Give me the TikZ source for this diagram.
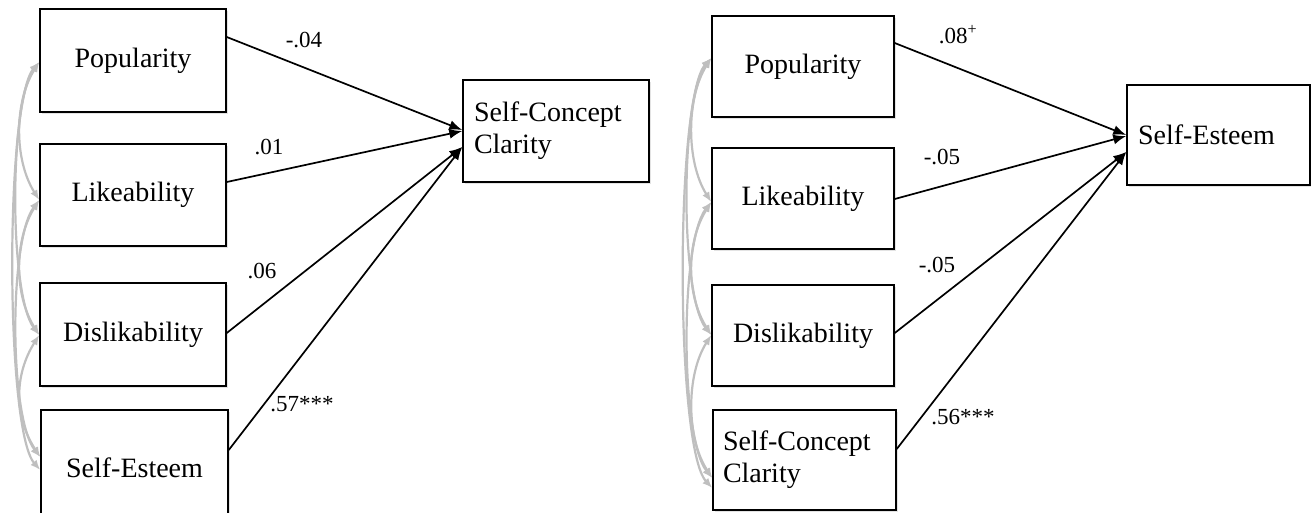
\documentclass[tikz,border=0pt]{standalone}
\usepackage{fontspec}
\setmainfont{Liberation Serif}
\usetikzlibrary{arrows.meta,shadows}
\begin{document}
\begin{tikzpicture}[x=1pt,y=-1pt,
  varbox/.style={draw=black,line width=1.5pt,fill=white,inner sep=0pt,
    font=\fontsize{28}{32}\selectfont,
    drop shadow={shadow xshift=2pt,shadow yshift=-2pt,opacity=0.22,fill=gray}},
  path/.style={draw=black,line width=1.7pt,-{Latex[length=13pt,width=10pt]}},
  cov/.style={draw=gray!50,line width=2.2pt,{Latex[length=10pt,width=8pt]}-{Latex[length=10pt,width=8pt]}},
  coef/.style={font=\fontsize{23}{26}\selectfont,inner sep=0pt}]
\useasboundingbox (0,0) rectangle (1311,512);
% ---------- left panel ----------
\node[varbox,minimum width=186pt,minimum height=103pt] (lpop) at (133,60.5) {Popularity};
\node[varbox,minimum width=186pt,minimum height=102pt] (llik) at (133,195) {Likeability};
\node[varbox,minimum width=186pt,minimum height=103pt] (ldis) at (133,334.5) {Dislikability};
\node[varbox,minimum width=187pt,minimum height=116pt] (lse) at (134.5,468) {Self-Esteem};
\node[varbox,minimum width=186pt,minimum height=102pt,text width=164pt,align=left] (lscc) at (556,131) {Self-Concept\\Clarity};
\draw[path] (lpop.east |- 0,37) -- (lscc.west |- 0,130);
\draw[path] (llik.east |- 0,182) -- (lscc.west |- 0,131);
\draw[path] (ldis.east |- 0,333) -- (lscc.west |- 0,147);
\draw[path] (lse.east |- 0,450) -- (lscc.west |- 0,147);
\node[coef] (c1) at (304,40) {-.04};
\node[coef] (c2) at (269,147) {.01};
\node[coef] (c3) at (262,271) {.06};
\node[coef] (c4) at (302,404) {.57***};
\draw[cov] (lpop.west |- 0,62) .. controls (14,102) and (14,160) .. (llik.west |- 0,200);
\draw[cov] (lpop.west |- 0,62) .. controls (9,102) and (9,295) .. (ldis.west |- 0,335);
\draw[cov] (lpop.west |- 0,62) .. controls (5,102) and (5,430) .. (lse.west |- 0,470);
\draw[cov] (llik.west |- 0,200) .. controls (14,240) and (14,295) .. (ldis.west |- 0,335);
\draw[cov] (llik.west |- 0,200) .. controls (9,240) and (9,417) .. (lse.west |- 0,457);
\draw[cov] (ldis.west |- 0,335) .. controls (14,375) and (14,417) .. (lse.west |- 0,457);
% ---------- right panel ----------
\node[varbox,minimum width=182pt,minimum height=101pt] (rpop) at (803,66.5) {Popularity};
\node[varbox,minimum width=182pt,minimum height=101pt] (rlik) at (803,198.5) {Likeability};
\node[varbox,minimum width=182pt,minimum height=101pt] (rdis) at (803,335.5) {Dislikability};
\node[varbox,minimum width=183pt,minimum height=100pt,text width=163pt,align=left] (rscc) at (804.5,460) {Self-Concept\\Clarity};
\node[varbox,minimum width=183pt,minimum height=100pt,text width=161pt,align=left] (rse) at (1218.5,135) {Self-Esteem};
\draw[path] (rpop.east |- 0,43) -- (rse.west |- 0,135);
\draw[path] (rlik.east |- 0,199) -- (rse.west |- 0,136);
\draw[path] (rdis.east |- 0,333) -- (rse.west |- 0,152);
\draw[path] (rscc.east |- 0,449) -- (rse.west |- 0,152);
\node[coef] (d1) at (958,35) {.08\textsuperscript{+}};
\node[coef] (d2) at (942,157) {-.05};
\node[coef] (d3) at (937,265) {-.05};
\node[coef] (d4) at (963,417) {.56***};
\draw[cov] (rpop.west |- 0,58) .. controls (686,98) and (686,162) .. (rlik.west |- 0,202);
\draw[cov] (rpop.west |- 0,58) .. controls (680,98) and (680,295) .. (rdis.west |- 0,335);
\draw[cov] (rpop.west |- 0,58) .. controls (675,98) and (675,448) .. (rscc.west |- 0,488);
\draw[cov] (rlik.west |- 0,202) .. controls (686,242) and (686,295) .. (rdis.west |- 0,335);
\draw[cov] (rlik.west |- 0,202) .. controls (680,242) and (680,438) .. (rscc.west |- 0,478);
\draw[cov] (rdis.west |- 0,335) .. controls (686,375) and (686,438) .. (rscc.west |- 0,478);
\end{tikzpicture}
\end{document}
